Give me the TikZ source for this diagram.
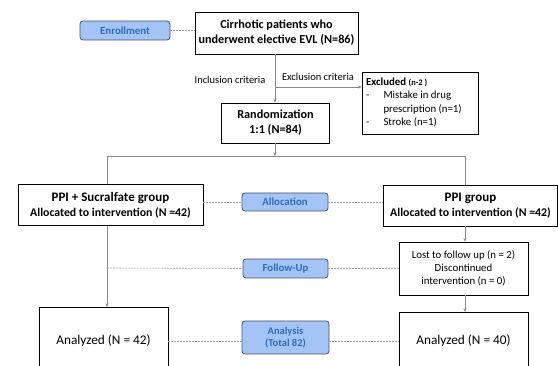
\documentclass[tikz,border=0pt]{standalone}
\usepackage{fontspec}
\setmainfont{Carlito}
\usetikzlibrary{arrows.meta}
\definecolor{phfill}{HTML}{A4C4F6}
\definecolor{phtext}{HTML}{2E6DB8}
\definecolor{phborder}{HTML}{46546A}
\definecolor{conn}{HTML}{8A8A8A}
\definecolor{dashc}{HTML}{A0A0A0}
\tikzset{
  phase/.style={draw=phborder, fill=phfill, rounded corners=3pt, line width=0.8pt,
    text=phtext, font=\fontsize{10.8}{12}\selectfont\bfseries, align=center, inner sep=1pt},
  mainbox/.style={draw=black, line width=0.9pt, fill=white, align=center, inner sep=2pt},
  conarrow/.style={draw=conn, line width=0.7pt, -{Stealth[length=3.5pt,width=3pt]}},
  conline/.style={draw=conn, line width=0.7pt},
  dashline/.style={draw=dashc, line width=0.6pt, dash pattern=on 2pt off 1pt},
  smalltext/.style={font=\fontsize{10.5}{12}\selectfont, inner sep=0pt}
}
\begin{document}
\begin{tikzpicture}[x=1pt,y=-1pt]
\useasboundingbox (0,0) rectangle (558,366);
\clip (0,0) rectangle (558,366);
% phases
\node[phase, minimum width=90pt, minimum height=19pt] (enroll) at (125,30.5) {Enrollment};
\node[phase, minimum width=86pt, minimum height=18pt] (alloc) at (285,202) {Allocation};
\node[phase, minimum width=85pt, minimum height=19pt] (follow) at (285.5,268.5) {Follow-Up};
\node[phase, minimum width=87pt, minimum height=33pt, font=\fontsize{10.5}{12.5}\selectfont\bfseries] (analysis) at (285.5,337.5) {Analysis\\(Total 82)};
% main boxes
\node[mainbox, minimum width=163pt, minimum height=42pt, font=\fontsize{12.2}{15}\selectfont\bfseries] (cirr) at (276.5,33) {Cirrhotic patients who\\underwent elective EVL (N=86)};
\node[mainbox, minimum width=108pt, minimum height=40pt, font=\fontsize{12.2}{15}\selectfont\bfseries] (rand) at (275.5,123) {Randomization\\1:1 (N=84)};
\node[draw=black, line width=0.7pt, fill=white, minimum width=116pt, minimum height=62pt] (excl) at (420,103) {};
\node[anchor=north west, inner sep=0pt, font=\fontsize{10.8}{13.3}\selectfont, align=left] (excltext) at (366,76)
  {\begin{tabular}{@{}l@{\hspace{14pt}}l@{}}
   \multicolumn{2}{@{}l}{\textbf{Excluded} {\fontsize{8.5}{9}\selectfont\bfseries (n-2 )}}\\
   - & Mistake in drug\\
     & prescription (n=1)\\
   - & Stroke (n=1)
   \end{tabular}};
\node[mainbox, minimum width=185pt, minimum height=41pt, font=\fontsize{11.8}{15}\selectfont\bfseries] (grpL) at (110.5,205) {{\fontsize{13}{15}\selectfont PPI + Sucralfate group}\\Allocated to intervention (N =42)};
\node[mainbox, minimum width=174pt, minimum height=41pt, font=\fontsize{11.8}{15}\selectfont\bfseries] (grpR) at (470.5,205.5) {{\fontsize{13}{15}\selectfont PPI group}\\Allocated to intervention (N =42)};
\node[mainbox, line width=0.8pt, minimum width=129pt, minimum height=53pt, font=\fontsize{10.8}{13}\selectfont] (lost) at (463.5,268.5) {Lost to follow up (n = 2)\\Discontinued\\intervention (n = 0)};
\node[mainbox, minimum width=129pt, minimum height=68pt, anchor=north] (anL) at (103.5,307) {};
\node[font=\fontsize{13.3}{15}\selectfont, inner sep=0pt] (anLt) at (103.5,341) {Analyzed (N = 42)};
\node[mainbox, minimum width=129pt, minimum height=60pt, anchor=north] (anR) at (463.5,312) {};
\node[font=\fontsize{13.3}{15}\selectfont, inner sep=0pt] (anRt) at (463.5,341) {Analyzed (N = 40)};
% labels
\node[smalltext] (incl) at (230,80) {Inclusion criteria};
\node[smalltext] (exclab) at (318,77) {Exclusion criteria};
% coordinates
\coordinate (exstart) at (275,87);
\coordinate (split) at (275,156);
\coordinate (splitL) at (107,156);
\coordinate (splitR) at (465,156);
\coordinate (fuL) at (107,268);
% connectors
\draw[conarrow] (cirr.south -| exstart) -- (rand.north -| exstart);
\draw[conarrow] (exstart) -- (excl.west |- exstart);
\draw[conarrow] (rand.south -| split) -- (split);
\draw[conline] (splitL) -- (splitR);
\draw[conline] (splitL) -- (grpL.north -| splitL);
\draw[conline] (splitR) -- (grpR.north -| splitR);
\draw[conarrow] (grpL.south -| splitL) -- (anL.north -| splitL);
\draw[conarrow] (grpR.south -| splitR) -- (lost.north -| splitR);
\draw[conarrow] (lost.south -| splitR) -- (anR.north -| splitR);
% dashed
\draw[dashline] (enroll.east) -- (cirr.west |- enroll.east);
\draw[dashline] (grpL.east |- alloc.west) -- (alloc.west);
\draw[dashline] (alloc.east) -- (grpR.west |- alloc.east);
\draw[dashline] (fuL) -- (follow.west);
\draw[dashline] (follow.east) -- (lost.west |- follow.east);
\draw[dashline] (anL.east |- anLt) -- (analysis.west |- anLt);
\draw[dashline] (analysis.east |- anRt) -- (anR.west |- anRt);
\end{tikzpicture}
\end{document}
